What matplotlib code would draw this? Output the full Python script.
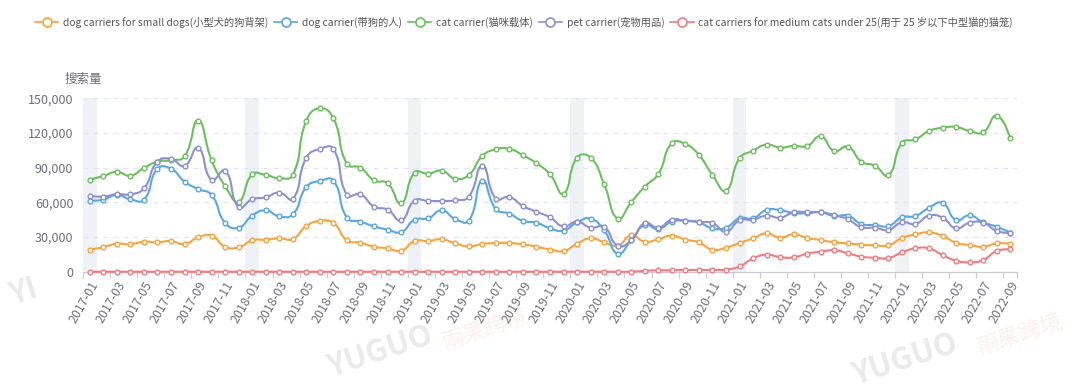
import numpy as np
import matplotlib
matplotlib.use('Agg')
import matplotlib.pyplot as plt
from matplotlib.path import Path
from matplotlib.patches import PathPatch
from matplotlib.lines import Line2D

plt.rcParams['font.family'] = ['Noto Sans CJK SC', 'DejaVu Sans']

# ---------------- data ----------------
months = [f"{y}-{m:02d}" for y in range(2017, 2023) for m in range(1, 13)][:69]

series_names = [
    "dog carriers for small dogs(小型犬的狗背架)",
    "dog carrier(带狗的人)",
    "cat carrier(猫咪载体)",
    "pet carrier(宠物用品)",
    "cat carriers for medium cats under 25(用于 25 岁以下中型猫的猫笼)",
]

small_dogs = [19000, 21300, 24200, 23700, 26000, 25400, 26500, 23900, 29700, 31200, 21600, 21100,
              27100, 27700, 28900, 28300, 39500, 43900, 42100, 27100, 25100, 21600, 20200, 18200,
              26500, 26500, 28000, 24500, 21900, 23900, 24800, 24800, 23700, 21600, 19200,
              17900, 24200, 28900, 25400, 22500, 31400, 26000, 28000, 31200, 27700, 25400, 19000,
              20800, 24800, 28900, 33200, 29400, 32300, 29100, 27400, 25400, 24500, 23400, 22800,
              22800, 29100, 32300, 34000, 30900, 25100, 23100, 21600, 24500, 24200]

dog_carrier = [61500, 62300, 66400, 62600, 62300, 88900, 89100, 77900, 71500, 66400, 42100, 38100,
               48500, 53100, 47900, 49600, 73300, 78500, 78800, 46700, 43300, 39200, 36400, 34300,
               45000, 46200, 53100, 45600, 44100, 78800, 54200, 50200, 43900, 42400, 37500,
               35500, 42700, 45900, 35800, 15600, 27100, 40400, 36900, 43300, 44100, 42700, 37500,
               38100, 46200, 46200, 53400, 53300, 50800, 50500, 51400, 48200, 48500, 41300, 40400,
               39500, 47000, 48200, 55400, 59400, 44700, 48800, 42700, 38900, 33800]

cat_carrier = [79600, 82800, 86300, 83100, 89700, 95200, 96400, 99800, 130700, 96400, 74100, 60600,
               84200, 83700, 80800, 83700, 130700, 141400, 132700, 93200, 90000, 79000, 76500, 59100,
               85700, 84800, 87400, 80500, 83700, 100100, 105900, 106200, 100700, 93800, 84200,
               67500, 98700, 98700, 75600, 45900, 60000, 73600, 84500, 111100, 110500, 101000, 83700,
               70100, 98100, 104700, 109900, 107400, 108800, 108800, 117100, 104400, 108200, 95200, 91700,
               83400, 111400, 114500, 121700, 124600, 125200, 121700, 120600, 135000, 115400]

pet_carrier = [65800, 64900, 67200, 66900, 72100, 95200, 97500, 91500, 107300, 79300, 87400, 55700,
               62600, 64300, 68400, 62900, 98700, 106200, 106200, 66400, 66900, 56300, 53700, 44400,
               61500, 61200, 61200, 61700, 64900, 91700, 63200, 64600, 56800, 51900, 47000,
               39200, 43300, 38100, 38700, 22500, 27100, 42100, 38100, 45000, 44100, 43000, 42100,
               34600, 44400, 45000, 48500, 46700, 51400, 51600, 51400, 49000, 45300, 38400, 38100,
               36100, 42700, 41300, 48500, 46700, 37500, 42400, 42400, 35200, 33500]

medium_cats = [0] * 41 + [800, 1200, 1300, 1500, 1500, 1600, 1800, 4500, 11500, 14700, 12600,
                          12400, 15600, 17300, 18500, 15900, 13000, 12100, 11800, 16700, 20200,
                          20200, 14400, 9500, 8100, 10100, 17900, 19300]

series_values = [small_dogs, dog_carrier, cat_carrier, pet_carrier, medium_cats]
colors = ['#f9a33f', '#5aa6e2', '#6cbf5e', '#8c90d2', '#f27b7f']

y_ticks = [0, 30000, 60000, 90000, 120000, 150000]

# ---------------- figure ----------------
W, H = 1080, 391
fig = plt.figure(figsize=(W / 100, H / 100), dpi=100)
ax_left, ax_right, ax_top, ax_bot = 83, 1017, 98.3, 271.7
ax = fig.add_axes([ax_left / W, 1 - ax_bot / H, (ax_right - ax_left) / W, (ax_bot - ax_top) / H])
n = len(months)
ax.set_xlim(-0.5, n - 0.5)
ax.set_ylim(0, 150000)

# shaded January bands
for i, m in enumerate(months):
    if m.endswith('-01'):
        ax.axvspan(i - 0.5, i + 0.5, color='#eef1f5', zorder=0, lw=0)

# grid
for yv in y_ticks[1:]:
    ax.axhline(yv, color='#e0e6f1', lw=0.9, ls=(0, (4, 4)), zorder=0.5)

# echarts-like smoothing, computed in pixel space
px_x = (ax_right - ax_left) / n
px_y = (ax_bot - ax_top) / 150000.0
smooth = 0.5


def smooth_path(vals):
    xs = np.arange(len(vals)) * px_x
    ys = np.asarray(vals, float) * px_y
    verts = [(xs[0], ys[0])]
    codes = [Path.MOVETO]
    cpx0, cpy0 = xs[0], ys[0]
    for k in range(1, len(vals)):
        x, y = xs[k], ys[k]
        prevX, prevY = xs[k - 1], ys[k - 1]
        if k + 1 >= len(vals):
            ncx, ncy = x, y
            vx = vy = 0
            ratio = 0.5
        else:
            nx, ny = xs[k + 1], ys[k + 1]
            vx, vy = nx - prevX, ny - prevY
            lp = np.hypot(x - prevX, y - prevY)
            ln = np.hypot(nx - x, ny - y)
            ratio = ln / (ln + lp) if (ln + lp) > 0 else 0.5
            ncx = x - vx * smooth * (1 - ratio)
            ncy = y - vy * smooth * (1 - ratio)
        verts += [(cpx0, cpy0), (ncx, ncy), (x, y)]
        codes += [Path.CURVE4] * 3
        cpx0 = x + vx * smooth * ratio
        cpy0 = y + vy * smooth * ratio
    verts = [(vx_ / px_x, vy_ / px_y) for vx_, vy_ in verts]
    return Path(verts, codes)


for idx, (vals, c) in enumerate(zip(series_values, colors)):
    p = smooth_path(vals)
    ax.add_patch(PathPatch(p, facecolor='none', edgecolor=c, lw=1.5, zorder=2 + idx,
                           clip_on=False, capstyle='round', joinstyle='round'))
    ax.plot(np.arange(n), vals, ls='none', marker='o', ms=3.4, mfc='white', mec=c, mew=1.0,
            zorder=2.5 + idx, clip_on=False)

# axes styling
for s in ['top', 'right', 'left']:
    ax.spines[s].set_visible(False)
ax.spines['bottom'].set_color('#c9ccd4')
ax.spines['bottom'].set_linewidth(0.9)
ax.spines['bottom'].set_zorder(1.5)

ax.set_yticks(y_ticks)
ax.set_yticklabels([f"{v:,}" for v in y_ticks])
ax.tick_params(axis='y', length=0, pad=7, labelsize=9, labelcolor='#6e7079')

label_idx = list(range(0, n, 2))
ax.set_xticks(label_idx)
ax.set_xticklabels([months[i] for i in label_idx], rotation=60, ha='right', va='top',
                   rotation_mode='anchor')
ax.tick_params(axis='x', length=0, pad=5, labelsize=9, labelcolor='#6e7079')
ax.set_xticks([i - 0.5 for i in label_idx] + [n - 0.5], minor=True)
ax.tick_params(axis='x', which='minor', length=4, color='#c9ccd4', width=0.9)

fig.text(83 / W, 1 - 79 / H, "搜索量", ha='center', va='center', fontsize=9, color='#6e7079')

# legend
handles = [Line2D([0], [0], color=c, lw=1.2, marker='o', ms=6.5, mfc='white', mec=c, mew=1.2)
           for c in colors]
fig.legend(handles, series_names, loc='center', bbox_to_anchor=(524 / W, 1 - 22 / H), ncol=5,
           frameon=False, fontsize=7.4, handlelength=2.24, handletextpad=0.45, columnspacing=0.6,
           labelcolor='#555555', borderpad=0)

# watermarks
wm = dict(fontsize=22, fontweight='bold', alpha=0.18, rotation=18, ha='center', va='center')
fig.text(380 / W, 1 - 352 / H, "YUGUO", color='#888888', **wm)
fig.text(905 / W, 1 - 360 / H, "YUGUO", color='#888888', **wm)
fig.text(485 / W, 1 - 330 / H, "雨果跨境", color='#f08060', fontsize=16, alpha=0.12,
         rotation=18, ha='center', va='center')
fig.text(1020 / W, 1 - 335 / H, "雨果跨境", color='#f08060', fontsize=16, alpha=0.12,
         rotation=18, ha='center', va='center')
fig.text(24 / W, 1 - 292 / H, "YI", color='#888888', **wm)

fig.savefig('out.png', dpi=100)
